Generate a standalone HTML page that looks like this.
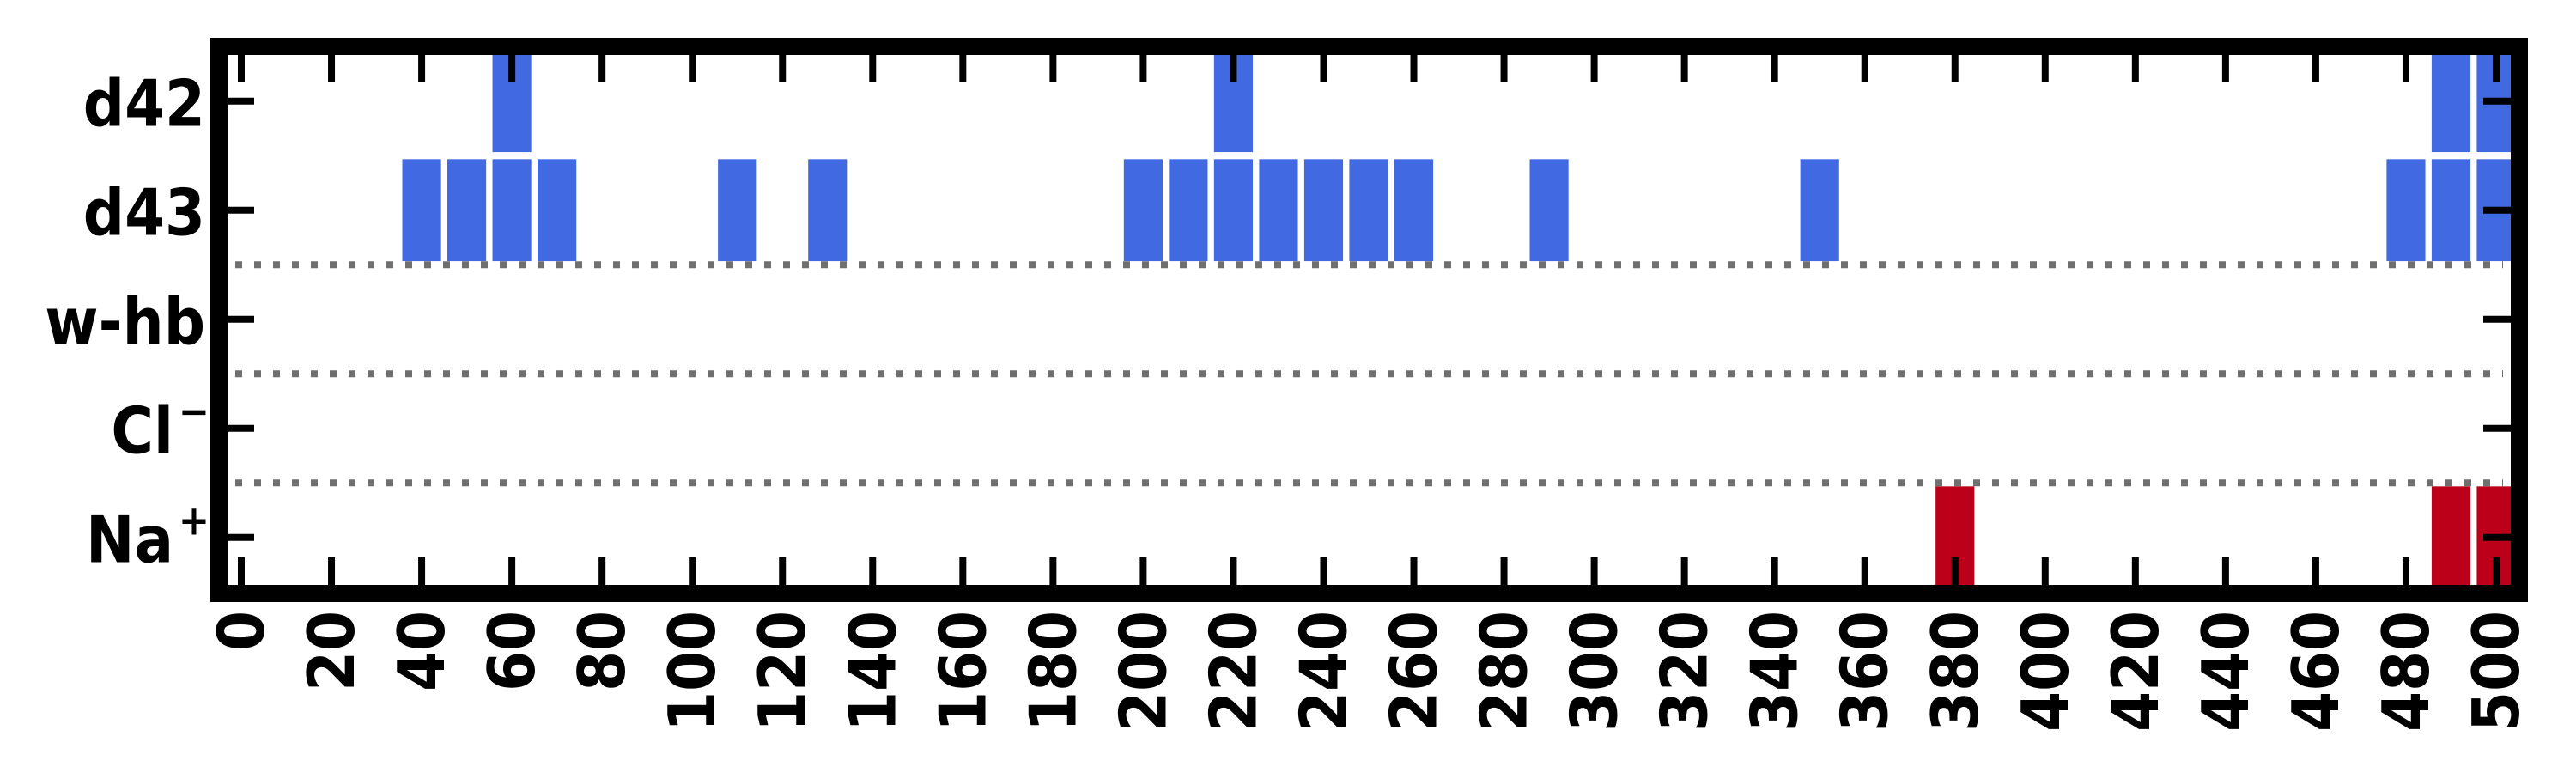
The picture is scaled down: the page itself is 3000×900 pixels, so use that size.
<!DOCTYPE html>
<html><head><meta charset="utf-8"><style>
html,body{margin:0;padding:0;background:#fff;}
svg{display:block;}
text{font-family:"DejaVu Sans Condensed","DejaVu Sans","Liberation Sans",sans-serif;font-weight:bold;fill:#000;}
</style></head><body>
<svg id="chart" width="3000" height="900" viewBox="0 0 3000 900" xmlns="http://www.w3.org/2000/svg">
<defs><clipPath id="plotclip"><rect x="265" y="64" width="2659" height="617"/></clipPath></defs>
<g id="bars" clip-path="url(#plotclip)"></g>
<g id="grid"></g>
<g id="ticks"></g>
<g id="labels"></g>
<rect x="255" y="54" width="2679" height="637" fill="none" stroke="#000" stroke-width="20"/>
</svg>
<script>
const categories = ["d42", "d43", "w-hb", "Cl", "Na"];
const d42Frames = [60, 220, 490, 500];
const d43Frames = [40, 50, 60, 70, 110, 130, 200, 210, 220, 230, 240, 250, 260, 290, 350, 480, 490, 500];
const whbFrames = [];
const clFrames = [];
const naFrames = [380, 490, 500];
const xTicks = [0,20,40,60,80,100,120,140,160,180,200,220,240,260,280,300,320,340,360,380,400,420,440,460,480,500];

const NS = "http://www.w3.org/2000/svg";
function xs(v){ return 281 + 5.252 * v; }
function ys(i){ return 117.7 + 127 * i; }
function mk(tag, attrs, parent){
  const e = document.createElementNS(NS, tag);
  for (const k in attrs) e.setAttribute(k, attrs[k]);
  parent.appendChild(e);
  return e;
}
const barsG = document.getElementById('bars');
const gridG = document.getElementById('grid');
const ticksG = document.getElementById('ticks');
const labG = document.getElementById('labels');

const series = [[d42Frames,0,"#4169e1","d42"],[d43Frames,1,"#4169e1","d43"],[whbFrames,2,"#4169e1","w-hb"],[clFrames,3,"#bc001a","cl"],[naFrames,4,"#bc001a","na"]];
const BW = 8.6, BH = 0.935;
series.forEach(s => {
  s[0].forEach(v => {
    const r = mk('rect', {x: xs(v - BW/2), y: ys(s[1] - BH/2), width: xs(v + BW/2) - xs(v - BW/2), height: ys(s[1] + BH/2) - ys(s[1] - BH/2), fill: s[2]}, barsG);
    
    
  });
});

[1.5, 2.5, 3.5].forEach(p => {
  const l = mk('line', {x1: 274, x2: 2915, y1: ys(p), y2: ys(p), stroke: "#6f6f6f", 'stroke-width': 8, 'stroke-dasharray': '8 14'}, gridG);
  
  
});

xTicks.forEach(v => {
  const x = xs(v);
  const t1 = mk('line', {x1: x, x2: x, y1: 64, y2: 96, stroke: "#000", 'stroke-width': 8}, ticksG);
  
  
  const t2 = mk('line', {x1: x, x2: x, y1: 649, y2: 681, stroke: "#000", 'stroke-width': 8}, ticksG);
  
  
  const s = String(v);
  const tx = mk('text', {x: 0, y: 0, 'font-size': 75, 'text-anchor': 'end', transform: 'translate(' + (x + 26) + ',711) rotate(-90)'}, labG);
  tx.textContent = s;
  
  
});

categories.forEach((c, i) => {
  const y = ys(i);
  const t1 = mk('line', {x1: 265, x2: 296, y1: y, y2: y, stroke: "#000", 'stroke-width': 8}, ticksG);
  
  
  const t2 = mk('line', {x1: 2892, x2: 2924, y1: y, y2: y, stroke: "#000", 'stroke-width': 8}, ticksG);
  
  
  const sup = (c === 'Cl') ? '\u2212' : (c === 'Na' ? '+' : '');
  const right = sup ? 202 : 239;
  const tx = mk('text', {x: right, y: y + 29, 'font-size': 75, 'text-anchor': 'end'}, labG);
  tx.textContent = c;
  
  
  if (sup) {
    const st = mk('text', {x: 226, y: y - 3, 'font-size': 48, 'font-weight': 'normal', 'text-anchor': 'middle'}, labG);
    st.textContent = sup;
    
    
  }
});
</script>
</body></html>
